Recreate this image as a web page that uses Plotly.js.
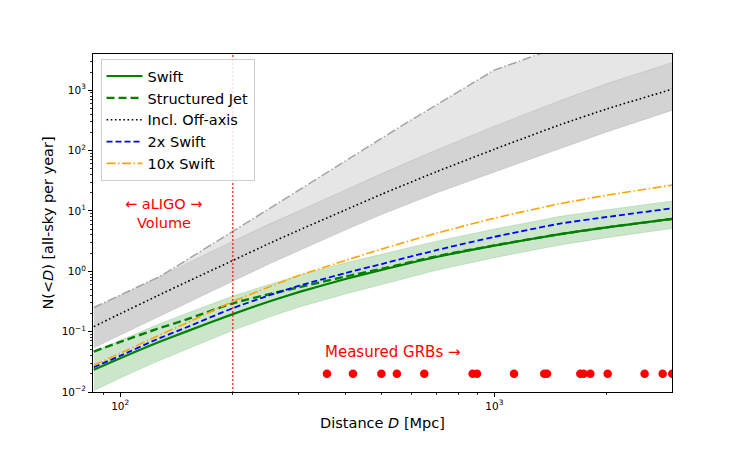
<!DOCTYPE html>
<html>
<head>
<meta charset="utf-8">
<script src="https://cdn.plot.ly/plotly-3.0.1.min.js"></script>
<style>html,body{margin:0;padding:0;background:#fff;}</style>
</head>
<body>
<div id="chart" style="width:747px;height:449px;"></div>
<script>
// ---------------- data ----------------
const distance = [85, 100, 125, 150, 200, 250, 300, 400, 500, 700, 1000, 1500, 2000, 3000];
const swift      = [0.0234, 0.0363, 0.0646, 0.100, 0.195, 0.316, 0.451, 0.746, 1.054, 1.726, 2.667, 4.13, 5.35, 7.40];
const swiftUpper = [0.0468, 0.0724, 0.129, 0.200, 0.389, 0.603, 0.851, 1.38, 1.91, 3.16, 5.01, 8.13, 10.5, 14.6];
const swiftLower = [0.0105, 0.0170, 0.0316, 0.0501, 0.105, 0.174, 0.254, 0.420, 0.607, 1.04, 1.68, 2.73, 3.61, 5.12];
const structuredJet = [0.0468, 0.0676, 0.110, 0.158, 0.295, 0.417, 0.542, 0.818, 1.10, 1.77, 2.69, 4.13, 5.35, 7.40];
const swift2x  = [0.0257, 0.0398, 0.0741, 0.117, 0.245, 0.398, 0.575, 0.933, 1.32, 2.24, 3.72, 6.17, 7.94, 11.1];
const swift10x = [0.0279, 0.0437, 0.0832, 0.138, 0.316, 0.550, 0.851, 1.51, 2.34, 4.27, 7.59, 13.2, 18.2, 26.9];
const offAxis      = [0.121, 0.198, 0.385, 0.658, 1.51, 2.88, 4.78, 10.4, 18.9, 44.5, 105, 268, 490, 1047];
const offAxisLower = [0.0541, 0.0883, 0.172, 0.294, 0.684, 1.32, 2.18, 4.83, 8.73, 19.9, 44.0, 107, 204, 468];
const offAxisUpper = [0.242, 0.394, 0.767, 1.34, 3.16, 6.01, 9.98, 22.3, 41.3, 102, 253, 673, 1288, 2884];
const envelopeDistance = [85, 128, 200, 365, 572, 1000, 1330, 3000];
const envelopeUpper    = [0.251, 0.826, 4.57, 46.5, 269, 2153, 4074, 24547];
const grbDistance = [357, 419, 499, 549, 650, 875, 899, 1129, 1360, 1383, 1698, 1733, 1806, 2009, 2522, 2818, 2990];
const grbLevel = grbDistance.map(() => 0.02);
const aligoDistance = 200;
const seriesNames = ['Swift', 'Structured Jet', 'Incl. Off-axis', '2x Swift', '10x Swift'];
const xTickVals = [100, 1000];
const xTickText = ['10<sup>2</sup>', '10<sup>3</sup>'];
const yTickVals = [0.01, 0.1, 1, 10, 100, 1000];
const yTickText = ['10<sup>−2</sup>', '10<sup>−1</sup>', '10<sup>0</sup>', '10<sup>1</sup>', '10<sup>2</sup>', '10<sup>3</sup>'];

// ---------------- helpers ----------------
const rev = a => a.slice().reverse();
function band(xUp, yUp, xLo, yLo, color, lineColor) {
  return {
    x: xUp.concat(rev(xLo)), y: yUp.concat(rev(yLo)),
    type: 'scatter', mode: 'lines', fill: 'toself', fillcolor: color,
    line: {color: lineColor, width: 0.8}, hoverinfo: 'skip', showlegend: false
  };
}
const smooth = {shape: 'spline', smoothing: 0.5};

const traces = [
  band(envelopeDistance, envelopeUpper, distance, offAxisUpper, 'rgba(128,128,128,0.2)', 'rgba(128,128,128,0.0)'),
  band(distance, offAxisUpper, distance, offAxisLower, 'rgba(128,128,128,0.35)', 'rgba(128,128,128,0.25)'),
  band(distance, swiftUpper, distance, swiftLower, 'rgba(0,128,0,0.2)', 'rgba(0,128,0,0.18)'),
  {x: envelopeDistance, y: envelopeUpper, type: 'scatter', mode: 'lines',
   line: {color: 'rgba(150,150,150,0.85)', width: 1.5, dash: '9px,2.5px,1.5px,2.5px'}, showlegend: false, hoverinfo: 'skip'},
  {x: distance, y: swift, name: seriesNames[0], type: 'scatter', mode: 'lines', legendrank: 1,
   line: Object.assign({color: 'green', width: 2.2}, smooth)},
  {x: distance, y: structuredJet, name: seriesNames[1], type: 'scatter', mode: 'lines', legendrank: 2,
   line: Object.assign({color: 'green', width: 2.4, dash: '8px,4px'}, smooth)},
  {x: distance, y: offAxis, name: seriesNames[2], type: 'scatter', mode: 'lines', legendrank: 3,
   line: Object.assign({color: 'black', width: 1.6, dash: '1.6px,2.6px'}, smooth)},
  {x: distance, y: swift2x, name: seriesNames[3], type: 'scatter', mode: 'lines', legendrank: 4,
   line: Object.assign({color: 'blue', width: 1.8, dash: '6px,3px'}, smooth)},
  {x: distance, y: swift10x, name: seriesNames[4], type: 'scatter', mode: 'lines', legendrank: 5,
   line: Object.assign({color: 'orange', width: 1.6, dash: '9px,2.5px,1.5px,2.5px'}, smooth)},
  {x: grbDistance, y: grbLevel, type: 'scatter', mode: 'markers', showlegend: false,
   marker: {color: 'red', size: 8.5}, cliponaxis: true},
  {x: [aligoDistance, aligoDistance], y: [1e-4, 1e6], type: 'scatter', mode: 'lines', showlegend: false,
   line: {color: 'red', width: 1.5, dash: '1.5px,2.5px'}, hoverinfo: 'skip'}
];

const tickFont = {family: 'DejaVu Sans', size: 10.5, color: 'black'};
const axisCommon = {
  type: 'log', showgrid: false, zeroline: false, showline: true, linecolor: 'black', linewidth: 1,
  mirror: true, ticks: 'outside', ticklen: 4, tickwidth: 1, tickcolor: 'black',
  tickmode: 'array', tickfont: tickFont,
  minor: {ticks: 'outside', ticklen: 2, tickwidth: 0.8, tickcolor: 'black', dtick: 'D1', showgrid: false}
};

const layout = {
  width: 747, height: 449,
  margin: {l: 93, r: 75, t: 54, b: 57},
  paper_bgcolor: 'white', plot_bgcolor: 'white',
  font: {family: 'DejaVu Sans', color: 'black'},
  xaxis: Object.assign({}, axisCommon, {
    range: [Math.log10(84.6), Math.log10(2985)],
    tickvals: xTickVals, ticktext: xTickText,
    title: {text: 'Distance <i>D</i> [Mpc]', font: {size: 14.5, family: 'DejaVu Sans'}, standoff: 7}
  }),
  yaxis: Object.assign({}, axisCommon, {
    range: [-2, 3.6],
    tickvals: yTickVals, ticktext: yTickText,
    title: {text: 'N(&lt;<i>D</i>) [all-sky per year]', font: {size: 14.5, family: 'DejaVu Sans'}, standoff: 4}
  }),
  showlegend: true,
  legend: {x: 0.013, y: 0.985, xanchor: 'left', yanchor: 'top',
           bgcolor: 'rgba(255,255,255,0.85)', bordercolor: '#cccccc', borderwidth: 1,
           font: {size: 14.5, family: 'DejaVu Sans'}, tracegroupgap: 0, itemwidth: 36},
  annotations: [
    {xref: 'paper', yref: 'paper', x: 0.1226, y: 0.556, text: '← aLIGO →', showarrow: false,
     font: {color: 'red', size: 14.5}, xanchor: 'center', yanchor: 'middle'},
    {xref: 'paper', yref: 'paper', x: 0.1226, y: 0.500, text: 'Volume', showarrow: false,
     font: {color: 'red', size: 14.5}, xanchor: 'center', yanchor: 'middle'},
    {xref: 'paper', yref: 'paper', x: 0.397, y: 0.118, text: 'Measured GRBs →', showarrow: false,
     font: {color: 'red', size: 15}, xanchor: 'left', yanchor: 'middle'}
  ]
};

Plotly.newPlot('chart', traces, layout, {displayModeBar: false, staticPlot: true});
</script>
</body>
</html>
